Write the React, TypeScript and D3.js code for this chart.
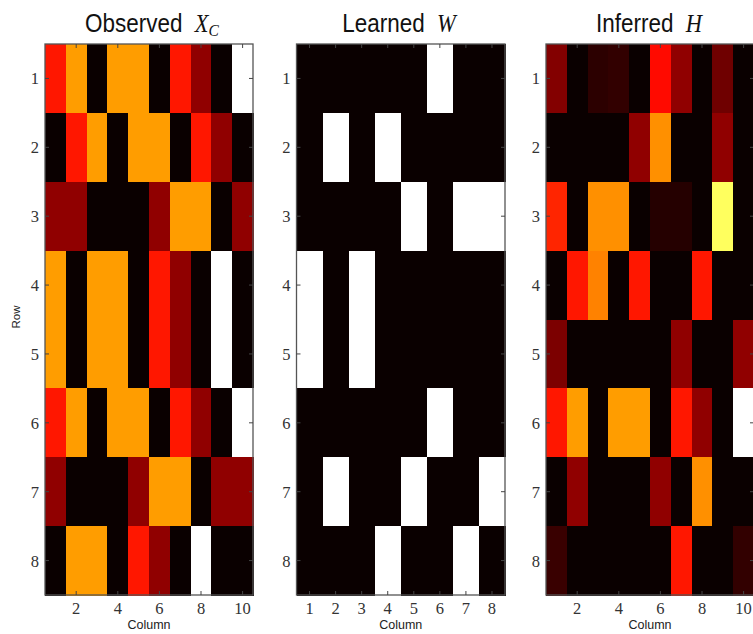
import React from "react";
import * as d3 from "d3";

// Values mapped through matplotlib "hot" colormap (0..1)
const observedXC: number[][] = [
  [0.4, 0.6, 0, 0.6, 0.6, 0, 0.4, 0.2, 0, 1],
  [0, 0.4, 0.6, 0, 0.6, 0.6, 0, 0.4, 0.2, 0],
  [0.2, 0.2, 0, 0, 0, 0.2, 0.6, 0.6, 0, 0.2],
  [0.6, 0, 0.6, 0.6, 0, 0.4, 0.2, 0, 1, 0],
  [0.6, 0, 0.6, 0.6, 0, 0.4, 0.2, 0, 1, 0],
  [0.4, 0.6, 0, 0.6, 0.6, 0, 0.4, 0.2, 0, 1],
  [0.2, 0, 0, 0, 0.2, 0.6, 0.6, 0, 0.2, 0.2],
  [0, 0.6, 0.6, 0, 0.4, 0.2, 0, 1, 0, 0],
];

const learnedW: number[][] = [
  [0, 0, 0, 0, 0, 1, 0, 0],
  [0, 1, 0, 1, 0, 0, 0, 0],
  [0, 0, 0, 0, 1, 0, 1, 1],
  [1, 0, 1, 0, 0, 0, 0, 0],
  [1, 0, 1, 0, 0, 0, 0, 0],
  [0, 0, 0, 0, 0, 1, 0, 0],
  [0, 1, 0, 0, 1, 0, 0, 1],
  [0, 0, 0, 1, 0, 0, 1, 0],
];

const inferredH: number[][] = [
  [0.18, 0, 0.05, 0.06, 0, 0.38, 0.2, 0, 0.15, 0],
  [0, 0, 0, 0, 0.2, 0.58, 0, 0, 0.2, 0],
  [0.42, 0, 0.58, 0.58, 0, 0.04, 0.04, 0, 0.84, 0],
  [0, 0.4, 0.56, 0, 0.4, 0, 0, 0.4, 0, 0],
  [0.17, 0, 0, 0, 0, 0, 0.2, 0, 0, 0.2],
  [0.4, 0.6, 0, 0.6, 0.6, 0, 0.4, 0.2, 0, 1],
  [0, 0.2, 0, 0, 0, 0.2, 0, 0.58, 0, 0],
  [0.07, 0, 0, 0, 0, 0, 0.4, 0, 0, 0.06],
];

const rowTicks = [1, 2, 3, 4, 5, 6, 7, 8];
const colTicks10 = [2, 4, 6, 8, 10];
const colTicks8 = [1, 2, 3, 4, 5, 6, 7, 8];

function hot(v: number): string {
  const c = (t: number) => Math.max(0, Math.min(1, t));
  const r = c(v / 0.365079);
  const g = c((v - 0.365079) / (0.746032 - 0.365079));
  const b = c((v - 0.746032) / (1 - 0.746032));
  return d3.rgb(Math.round(10 + r * 245), Math.round(g * 255), Math.round(b * 255)).toString();
}

const SERIF = "'Liberation Serif', 'DejaVu Serif', serif";
const SANS = "'Liberation Sans', Arial, sans-serif";

type PanelProps = {
  data: number[][];
  left: number;
  width: number;
  xTicks: number[];
  word: string;
  math: React.ReactNode;
  titleX: number;
};

const TOP = 44;
const BOTTOM = 595;

function Panel({ data, left, width, xTicks, word, math, titleX }: PanelProps) {
  const nRows = data.length;
  const nCols = data[0].length;
  const x = d3.scaleLinear().domain([0.5, nCols + 0.5]).range([left, left + width]);
  const y = d3.scaleLinear().domain([0.5, nRows + 0.5]).range([TOP, BOTTOM]);
  const tickLen = 4;
  const tickColor = "#444";
  return (
    <g>
      <g shapeRendering="crispEdges">
        {data.map((row, ri) =>
          row.map((v, ci) => {
            const x0 = Math.round(x(ci + 0.5));
            const x1 = Math.round(x(ci + 1.5));
            const y0 = Math.round(y(ri + 0.5));
            const y1 = Math.round(y(ri + 1.5));
            return (
              <rect
                key={`${ri}-${ci}`}
                x={x0}
                y={y0}
                width={x1 - x0 + 1}
                height={y1 - y0 + 1}
                fill={hot(v)}
              />
            );
          })
        )}
      </g>
      <rect x={left} y={TOP} width={width} height={BOTTOM - TOP} fill="none" stroke="#555" strokeWidth={1.3} />
      {xTicks.map((t) => (
        <g key={`xt${t}`}>
          <line x1={x(t)} x2={x(t)} y1={BOTTOM} y2={BOTTOM - tickLen} stroke={tickColor} />
          <line x1={x(t)} x2={x(t)} y1={TOP} y2={TOP + tickLen} stroke={tickColor} />
          <text x={x(t)} y={BOTTOM + 19} textAnchor="middle" fontFamily={SERIF} fontSize={16.5} fill="#333">
            {t}
          </text>
        </g>
      ))}
      {rowTicks.map((t) => (
        <g key={`yt${t}`}>
          <line x1={left} x2={left + tickLen} y1={y(t)} y2={y(t)} stroke={tickColor} />
          <line x1={left + width} x2={left + width - tickLen} y1={y(t)} y2={y(t)} stroke={tickColor} />
          <text x={left - 6} y={y(t) + 6} textAnchor="end" fontFamily={SERIF} fontSize={16.5} fill="#333">
            {t}
          </text>
        </g>
      ))}
      <text x={left + width / 2} y={629} textAnchor="middle" fontFamily={SANS} fontSize={12.5} fill="#222">
        Column
      </text>
      <g transform={`translate(${titleX},31.5) scale(1,1.12)`}>
        <text x={0} y={0} textAnchor="middle" fontFamily={SANS} fontSize={22.5} fill="#111">
          {word}
          <tspan dx={6}> </tspan>
          {math}
        </text>
      </g>
    </g>
  );
}

export default function App() {
  const mathStyle = { fontFamily: SERIF, fontStyle: "italic" as const };
  return (
    <svg width={753} height={634} style={{ position: "absolute", left: 0, top: 0, background: "#fff" }}>
      <rect width={753} height={634} fill="#fff" />
      <Panel
        data={observedXC}
        left={45}
        width={208}
        xTicks={colTicks10}
        titleX={152}
        word="Observed"
        math={
          <>
            <tspan {...mathStyle}>X</tspan>
            <tspan {...mathStyle} fontSize={15.5} dy={4}>C</tspan>
          </>
        }
      />
      <Panel
        data={learnedW}
        left={296.5}
        width={208.5}
        xTicks={colTicks8}
        titleX={399}
        word="Learned"
        math={<tspan {...mathStyle}>W</tspan>}
      />
      <Panel
        data={inferredH}
        left={546}
        width={208}
        xTicks={colTicks10}
        titleX={649}
        word="Inferred"
        math={<tspan {...mathStyle}>H</tspan>}
      />
      <text
        transform="translate(20,317) rotate(-90)"
        textAnchor="middle"
        fontFamily={SANS}
        fontSize={11.5}
        fill="#222"
      >
        Row
      </text>
    </svg>
  );
}
